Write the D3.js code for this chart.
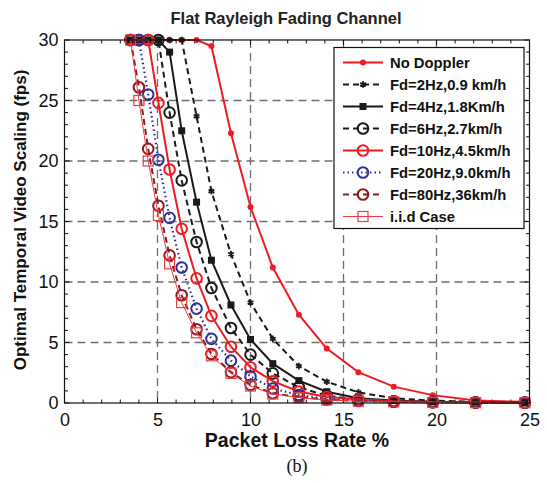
<!DOCTYPE html>
<html>
<head>
<meta charset="utf-8">
<script src="https://cdnjs.cloudflare.com/ajax/libs/d3/7.8.5/d3.min.js"></script>
<style>
  body { margin: 0; background: #fff; }
  svg { display: block; font-family: "Liberation Sans", Arial, sans-serif; }
</style>
</head>
<body>
<div id="container"></div>
<script>
// packet loss rate samples (%) shared by every curve
const plr = [3.55, 4.0, 4.5, 5.05, 5.65, 6.3, 7.1, 7.9, 8.95, 10.0, 11.2, 12.6, 14.1, 15.8, 17.7, 19.8, 22.1, 24.75];

// optimal temporal scaling (fps)
const noDoppler = [30, 30, 30, 30, 30, 30, 30, 29.5, 22.3, 16.2, 11.2, 7.3, 4.5, 2.55, 1.35, 0.65, 0.2, 0.1];
const fd2  = [30, 30, 30, 30, 30, 30, 23.7, 17.5, 12.3, 8.3, 5.3, 3.05, 1.76, 0.88, 0.39, 0.19, 0.1, 0.05];
const fd4  = [30, 30, 30, 30, 29.0, 22.5, 16.6, 11.8, 8.1, 5.25, 3.25, 1.85, 0.93, 0.4, 0.2, 0.1, 0.06, 0.04];
const fd6  = [30, 30, 30, 30, 24.0, 18.4, 13.3, 9.5, 6.2, 4.0, 2.45, 1.3, 0.6, 0.3, 0.15, 0.1, 0.06, 0.04];
const fd10 = [30, 30, 30, 24.8, 19.3, 14.4, 10.3, 7.2, 4.65, 2.95, 1.8, 0.95, 0.5, 0.3, 0.15, 0.08, 0.05, 0.03];
const fd20 = [30, 30, 25.5, 20.1, 15.3, 11.2, 7.8, 5.3, 3.5, 2.2, 1.2, 0.66, 0.35, 0.2, 0.1, 0.06, 0.04, 0.03];
const fd80 = [30, 26.1, 21.0, 16.3, 12.2, 8.9, 6.1, 4.05, 2.55, 1.5, 0.8, 0.5, 0.28, 0.16, 0.1, 0.06, 0.03, 0.02];
const iid  = [30, 25.0, 20.0, 15.5, 11.5, 8.3, 5.8, 3.9, 2.45, 1.4, 0.75, 0.45, 0.25, 0.15, 0.1, 0.05, 0.03, 0.02];

const seriesNames = ['No Doppler', 'Fd=2Hz,0.9 km/h', 'Fd=4Hz,1.8Km/h', 'Fd=6Hz,2.7km/h',
  'Fd=10Hz,4.5km/h', 'Fd=20Hz,9.0km/h', 'Fd=80Hz,36km/h', 'i.i.d Case'];
const seriesValues = [noDoppler, fd2, fd4, fd6, fd10, fd20, fd80, iid];

const xTicks = [0, 5, 10, 15, 20, 25];
const yTicks = [0, 5, 10, 15, 20, 25, 30];

// look of each curve
const styles = [
  { color: '#ed1c24', width: 2,   dash: null,  marker: 'dot' },
  { color: '#1a1a1a', width: 2,   dash: '6,4', marker: 'star' },
  { color: '#1a1a1a', width: 2,   dash: null,  marker: 'square' },
  { color: '#1a1a1a', width: 2,   dash: '6,4', marker: 'circle' },
  { color: '#ed1c24', width: 2,   dash: null,  marker: 'circle' },
  { color: '#2e3192', width: 2.2, dash: '1.5,3', marker: 'circle' },
  { color: '#8e1b1e', width: 2,   dash: '6,4', marker: 'circle' },
  { color: '#ee3a45', width: 1,   dash: null,  marker: 'bigsquare' }
];

const W = 547, H = 483;
const m = { left: 64.5, right: 529.5, top: 40, bottom: 403 };

const svg = d3.select('#container').append('svg')
  .attr('width', W).attr('height', H);

const x = d3.scaleLinear().domain([0, 25]).range([m.left, m.right]);
const y = d3.scaleLinear().domain([0, 30]).range([m.bottom, m.top]);

// dashed grid
const grid = svg.append('g').attr('stroke', '#6d6d6d').attr('stroke-width', 1.3)
  .attr('stroke-dasharray', '8,5');
grid.selectAll('.gx').data(xTicks.slice(1, -1)).enter().append('line')
  .attr('x1', d => x(d)).attr('x2', d => x(d)).attr('y1', m.top).attr('y2', m.bottom);
grid.selectAll('.gy').data(yTicks.slice(1, -1)).enter().append('line')
  .attr('y1', d => y(d)).attr('y2', d => y(d)).attr('x1', m.left).attr('x2', m.right);

// axes: labels from d3 axes, inward ticks drawn on all four sides
const xAxis = svg.append('g').attr('transform', `translate(0,${m.bottom})`)
  .call(d3.axisBottom(x).tickValues(xTicks).tickSize(0).tickPadding(10));
const yAxis = svg.append('g').attr('transform', `translate(${m.left},0)`)
  .call(d3.axisLeft(y).tickValues(yTicks).tickSize(0).tickPadding(6));
[xAxis, yAxis].forEach(a => {
  a.select('.domain').remove();
  a.selectAll('text').attr('font-size', 18).attr('fill', '#111')
    .attr('font-family', '"Liberation Sans", Arial, sans-serif');
});
xAxis.selectAll('text').attr('dy', '0.71em');

const ticks = svg.append('g').attr('stroke', '#111').attr('stroke-width', 1);
x.ticks(25).forEach(v => {
  const len = xTicks.includes(v) ? 5 : 3.5;
  ticks.append('line').attr('x1', x(v)).attr('x2', x(v)).attr('y1', m.bottom).attr('y2', m.bottom - len);
  ticks.append('line').attr('x1', x(v)).attr('x2', x(v)).attr('y1', m.top).attr('y2', m.top + len);
});
y.ticks(30).forEach(v => {
  const len = yTicks.includes(v) ? 5 : 3.5;
  ticks.append('line').attr('y1', y(v)).attr('y2', y(v)).attr('x1', m.left).attr('x2', m.left + len);
  ticks.append('line').attr('y1', y(v)).attr('y2', y(v)).attr('x1', m.right).attr('x2', m.right - len);
});

// curves
const line = d3.line().x((d, i) => x(plr[i])).y(d => y(d));
const plot = svg.append('g');

function drawMarker(g, st, px, py) {
  if (st.marker === 'dot') {
    g.append('circle').attr('cx', px).attr('cy', py).attr('r', 3).attr('fill', st.color);
  } else if (st.marker === 'circle') {
    g.append('circle').attr('cx', px).attr('cy', py).attr('r', 5.3)
      .attr('fill', 'none').attr('stroke', st.color).attr('stroke-width', 2);
  } else if (st.marker === 'square') {
    g.append('rect').attr('x', px - 3.5).attr('y', py - 3.5).attr('width', 7).attr('height', 7)
      .attr('fill', st.color);
  } else if (st.marker === 'bigsquare') {
    g.append('rect').attr('x', px - 5).attr('y', py - 5).attr('width', 10).attr('height', 10)
      .attr('fill', 'none').attr('stroke', st.color).attr('stroke-width', 1.2);
  } else if (st.marker === 'star') {
    g.append('path').attr('transform', `translate(${px},${py})`)
      .attr('d', d3.symbol(d3.symbolAsterisk || d3.symbolCross, 30)())
      .attr('fill', 'none').attr('stroke', st.color).attr('stroke-width', 1.8);
  }
}

seriesValues.forEach((vals, k) => {
  const st = styles[k];
  plot.append('path').datum(vals)
    .attr('d', line)
    .attr('fill', 'none')
    .attr('stroke', st.color)
    .attr('stroke-width', st.width)
    .attr('stroke-dasharray', st.dash);
  const mg = plot.append('g');
  vals.forEach((v, i) => drawMarker(mg, st, x(plr[i]), y(v)));
});

// frame
svg.append('rect').attr('x', m.left).attr('y', m.top)
  .attr('width', m.right - m.left).attr('height', m.bottom - m.top)
  .attr('fill', 'none').attr('stroke', '#111').attr('stroke-width', 1.2);

// legend
const lg = svg.append('g').attr('transform', 'translate(334,47.5)');
lg.append('rect').attr('width', 190).attr('height', 181)
  .attr('fill', '#fff').attr('stroke', '#111').attr('stroke-width', 1.2);
seriesNames.forEach((name, k) => {
  const st = styles[k];
  const ly = 15 + k * 22;
  const row = lg.append('g');
  row.append('line').attr('x1', 9).attr('x2', 49).attr('y1', ly).attr('y2', ly)
    .attr('stroke', st.color).attr('stroke-width', st.width).attr('stroke-dasharray', st.dash);
  drawMarker(row, st, 29, ly);
  row.append('text').attr('x', 56).attr('y', ly).attr('dy', '0.36em')
    .attr('font-size', 14.8).attr('font-weight', 'bold').attr('fill', '#111')
    .text(name);
});

// titles
svg.append('text').attr('x', 286).attr('y', 24).attr('text-anchor', 'middle')
  .attr('font-size', 16.5).attr('font-weight', 'bold').attr('fill', '#222')
  .text('Flat Rayleigh Fading Channel');
svg.append('text').attr('x', 297).attr('y', 447).attr('text-anchor', 'middle')
  .attr('font-size', 19.5).attr('font-weight', 'bold').attr('fill', '#111')
  .text('Packet Loss Rate %');
svg.append('text').attr('transform', 'translate(26,220) rotate(-90)').attr('text-anchor', 'middle')
  .attr('font-size', 17).attr('font-weight', 'bold').attr('fill', '#111')
  .text('Optimal Temporal Video Scaling (fps)');
svg.append('text').attr('x', 297).attr('y', 472).attr('text-anchor', 'middle')
  .attr('font-size', 18).attr('font-family', '"Liberation Serif", "Times New Roman", serif').attr('fill', '#111')
  .text('(b)');
</script>
</body>
</html>
